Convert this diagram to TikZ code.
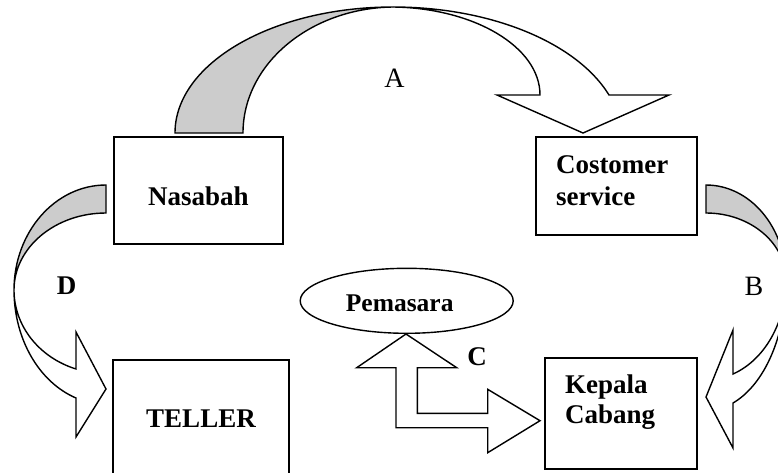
\documentclass[tikz,border=0pt]{standalone}
\usepackage{fontspec}
\setmainfont{Liberation Serif}
\usetikzlibrary{shapes.geometric}
\begin{document}
\begin{tikzpicture}[x=1pt,y=-1pt,
  outl/.style={draw=black, line width=1.4pt},
  grayband/.style={outl, fill=black!20},
  whiteband/.style={outl, fill=white},
  boxnode/.style={draw=black, line width=1.4pt, rectangle, inner sep=0pt,
    font=\fontsize{27}{31}\selectfont\bfseries},
  letterbold/.style={inner sep=0pt, font=\fontsize{27}{31}\selectfont\bfseries},
  letterreg/.style={inner sep=0pt, font=\fontsize{28}{32}\selectfont}
]
\useasboundingbox (0,0) rectangle (778,472);
\clip (0,0) rectangle (778,472);

% ---- boxes ----
\node[boxnode, minimum width=169pt, minimum height=107pt,
  text height=29pt, text depth=0pt] (nas) at (198.5,190.5) {Nasabah};
\node[boxnode, minimum width=161pt, minimum height=98pt,
  text width=121pt, align=left, text height=19pt, text depth=45pt,
  font=\fontsize{27}{32}\selectfont\bfseries] (cs) at (616.5,186) {Costomer\\service};
\node[boxnode, minimum width=176pt, minimum height=122pt,
  text height=12pt, text depth=0pt] (tel) at (201,421) {TELLER};
\node[boxnode, minimum width=152pt, minimum height=111pt,
  text width=112pt, align=left, text height=19pt, text depth=60pt,
  font=\fontsize{27}{30}\selectfont\bfseries] (kc) at (621,413.5) {Kepala\\Cabang};
\node[draw=black, line width=1.4pt, ellipse, inner sep=0pt,
  minimum width=213pt, minimum height=65pt, text height=22pt, text depth=0pt,
  font=\fontsize{25.5}{28}\selectfont\bfseries] (pem) at (406.7,300.8) {\hspace*{-14pt}Pemasara};

% ---- arrow A (Nasabah -> Costomer service) ----
\path[grayband] (175,133) .. controls (175,63.4) and (272.6,7) .. (393,7)
  .. controls (310.2,8) and (243,64) .. (243,133) -- cycle;
\path[whiteband] (393,7) .. controls (490,7) and (576.5,42.2) .. (609,95)
  -- (669,95) -- (583,133) -- (497,95) -- (540,95)
  .. controls (540,47) and (474.2,8) .. (393,7) -- cycle;

% ---- arrow B (Costomer service -> Kepala Cabang) ----
\path[grayband] (706,185) .. controls (750.2,185) and (786,227.5) .. (786,280)
  .. controls (786,243) and (750.2,213) .. (706,213) -- cycle;
\path[whiteband] (786,280) .. controls (786,335.2) and (764.8,384.4) .. (733,403)
  -- (733,448) -- (706,397) -- (733,330) -- (733,374)
  .. controls (764.8,359.8) and (786,322.2) .. (786,280) -- cycle;

% ---- arrow D (Nasabah -> TELLER) ----
\path[grayband] (106,185) .. controls (55.2,185) and (14,232) .. (14,290)
  .. controls (14,247.5) and (55.2,213) .. (106,213) -- cycle;
\path[whiteband] (14,290) .. controls (14,338.8) and (38.9,382.1) .. (76,398)
  -- (76,437) -- (106,389) -- (76,332) -- (76,369)
  .. controls (38.9,357.4) and (14,325.7) .. (14,290) -- cycle;

% ---- arrow C (Pemasara <-> Kepala Cabang) ----
\path[whiteband] (406,334) -- (456.7,367.7) -- (417.3,367.7) -- (417.3,413.3)
  -- (487.7,413.3) -- (487.7,389.3) -- (540,420.7) -- (487.7,452.7)
  -- (487.7,427.7) -- (396,427.7) -- (396,367.7) -- (356.7,367.7) -- cycle;

% ---- labels ----
\node[letterreg] (la) at (394.5,78) {A};
\node[letterreg] (lb) at (754,286) {B};
\node[letterbold] (lc) at (477,357) {C};
\node[letterbold] (ld) at (66.7,286) {D};
\end{tikzpicture}
\end{document}
